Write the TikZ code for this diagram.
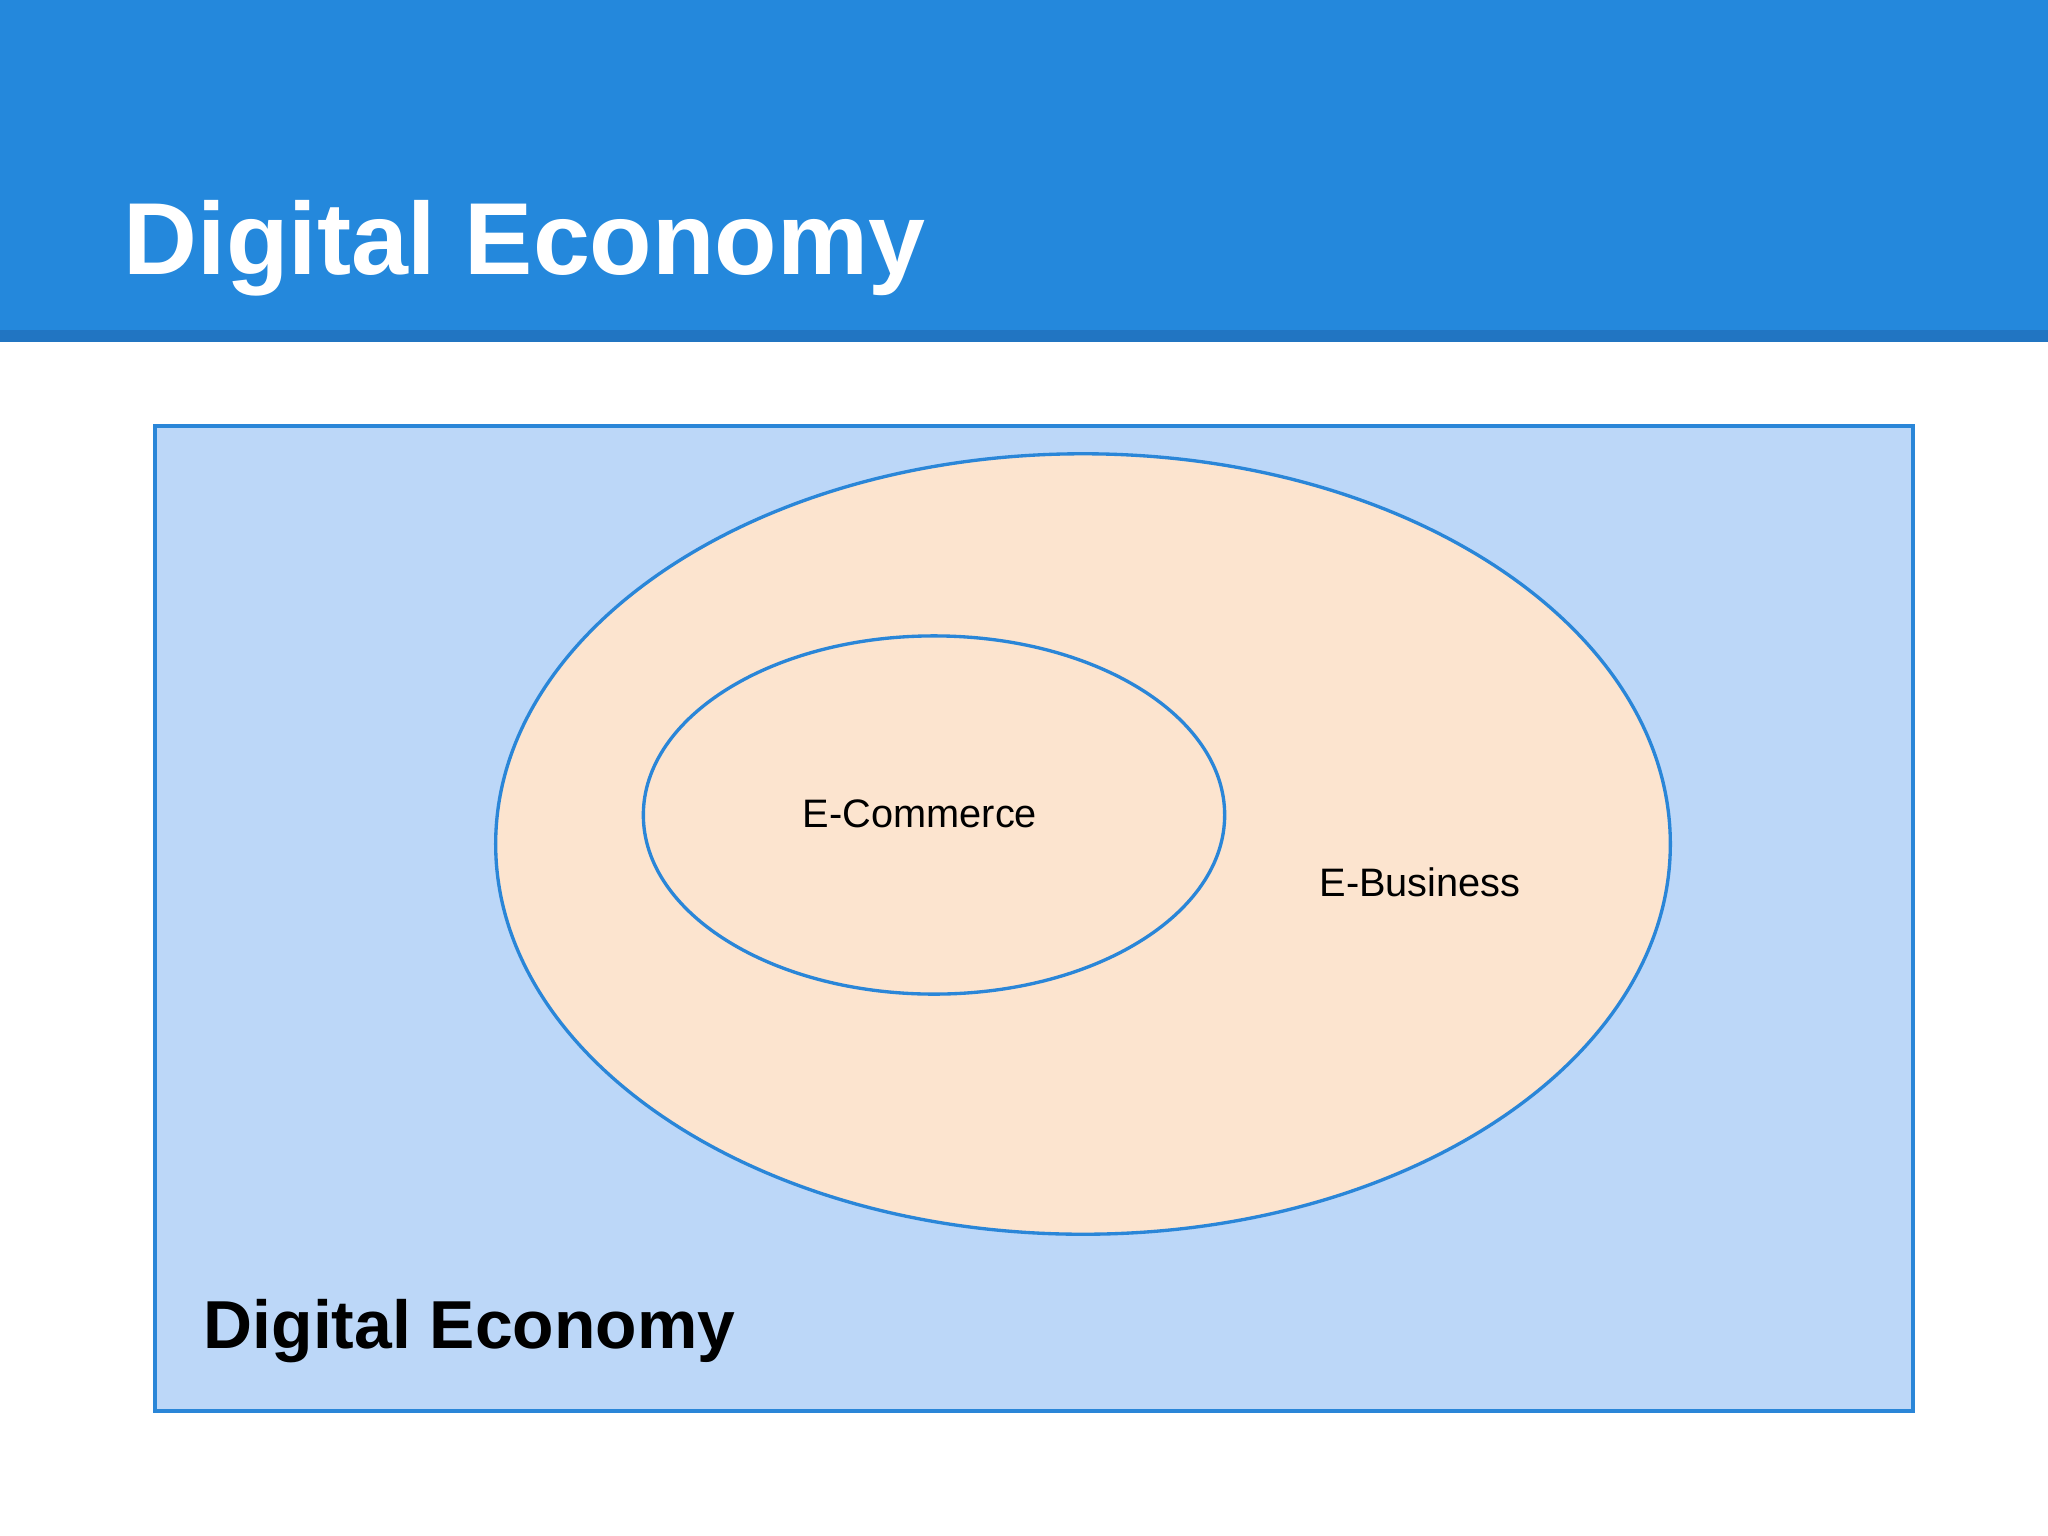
\documentclass[tikz,border=0pt]{standalone}
\usepackage{fontspec}
\setmainfont{Liberation Sans}
\usetikzlibrary{shapes.geometric}
\definecolor{headblue}{HTML}{2488DC}
\definecolor{stripblue}{HTML}{2175C2}
\definecolor{lineblue}{HTML}{2A86D8}
\definecolor{boxblue}{HTML}{BCD7F8}
\definecolor{peach}{HTML}{FCE4CF}
\begin{document}
\begin{tikzpicture}[x=0.01cm,y=-0.01cm,
    set/.style={ellipse,draw=lineblue,fill=peach,line width=0.95pt,inner sep=0pt},
    label/.style={font=\fontsize{11.3}{13}\selectfont,inner sep=0pt}]
    \useasboundingbox (0,0) rectangle (2048,1536);
    \fill[white] (0,0) rectangle (2048,1536);
    % header band
    \fill[headblue] (0,0) rectangle (2048,330);
    \fill[stripblue] (0,330) rectangle (2048,342);
    \node[anchor=base west,inner sep=0pt,text=white,font=\fontsize{29.1}{34}\bfseries\selectfont] (title) at (123,274) {Digital Economy};
    % economy box
    \draw[draw=lineblue,fill=boxblue,line width=1.1pt] (155,426) rectangle (1913,1411);
    \node[set,minimum width=11.74cm,minimum height=7.80cm] (business) at (1083,844) {};
    \node[set,minimum width=5.81cm,minimum height=3.58cm] (commerce) at (934,815) {};
    \node[label] (ecom) at (920,814) {E-Commerce};
    \node[label] (ebus) at (1420,882) {E-Business};
    \node[anchor=base west,inner sep=0pt,font=\fontsize{19.3}{23}\bfseries\selectfont] (economy) at (203,1348) {Digital Economy};
\end{tikzpicture}
\end{document}
